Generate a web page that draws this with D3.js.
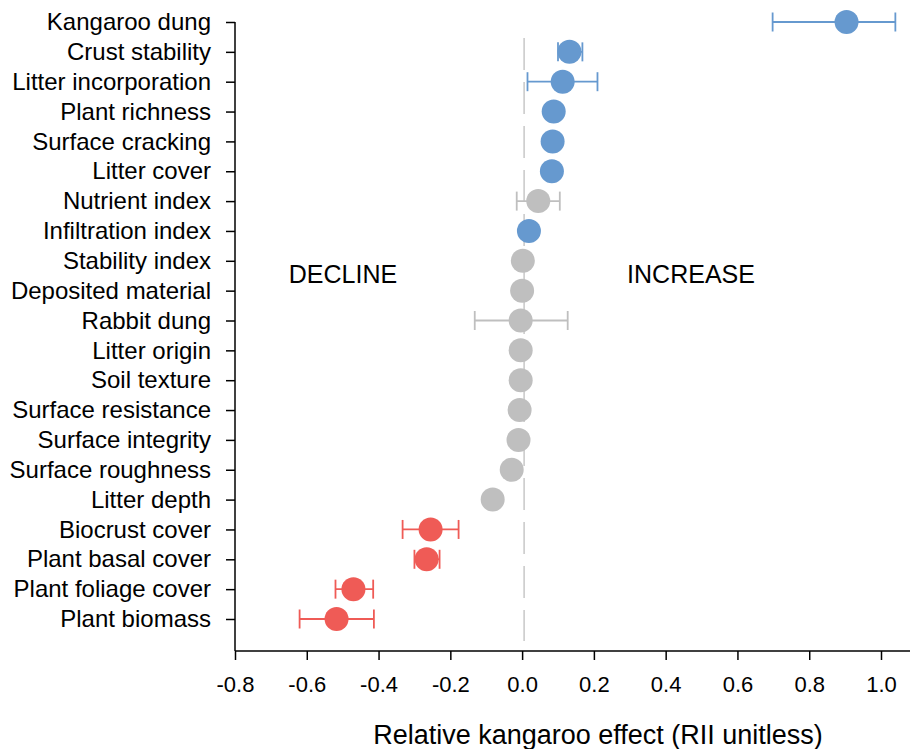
<!DOCTYPE html>
<html>
<head>
<meta charset="utf-8">
<script src="https://cdn.jsdelivr.net/npm/d3@7"></script>
<style>
  body { margin: 0; background: #fff; }
  text { font-family: "Liberation Sans", Arial, sans-serif; fill: #000; }
</style>
</head>
<body>
<svg id="chart" width="910" height="749"></svg>
<script>
const CATEGORIES = [
  'Kangaroo dung', 'Crust stability', 'Litter incorporation', 'Plant richness',
  'Surface cracking', 'Litter cover', 'Nutrient index', 'Infiltration index',
  'Stability index', 'Deposited material', 'Rabbit dung ', 'Litter origin',
  'Soil texture', 'Surface resistance', 'Surface integrity', 'Surface roughness',
  'Litter depth', 'Biocrust cover', 'Plant basal cover', 'Plant foliage cover',
  'Plant biomass'
]
const RII = [
  0.904, 0.132, 0.113, 0.088, 0.085, 0.083, 0.045, 0.019,
  0.002, 0.0, -0.004, -0.004, -0.004, -0.007, -0.01, -0.029,
  -0.082, -0.255, -0.266, -0.47, -0.517
]
const LOWER = [
  0.698, 0.10, 0.015, null, null, null, -0.015, null,
  null, null, -0.132, null, null, null, null, null,
  null, -0.333, -0.30, -0.52, -0.62
]
const UPPER = [
  1.04, 0.168, 0.21, null, null, null, 0.105, null,
  null, null, 0.127, null, null, null, null, null,
  null, -0.177, -0.23, -0.415, -0.413
]
// i = increase, n = not significant, d = decline
const GROUP = [
  'i', 'i', 'i', 'i', 'i', 'i', 'n', 'i',
  'n', 'n', 'n', 'n', 'n', 'n', 'n', 'n',
  'n', 'd', 'd', 'd', 'd'
]
const X_TICKS = [-0.8, -0.6, -0.4, -0.2, 0.0, 0.2, 0.4, 0.6, 0.8, 1.0]

const colors = { i: '#6699cf', n: '#bfbfbf', d: '#ef5b56' }

const svg = d3.select('#chart')
const axisY = 651

const x = d3.scaleLinear()
  .domain([-0.8, 1.0])
  .range([235, 881])

const y = d3.scalePoint()
  .domain(CATEGORIES)
  .range([22, 619])

const rows = CATEGORIES.map((c, i) => ({
  name: c, v: RII[i], lo: LOWER[i], hi: UPPER[i], g: GROUP[i]
}))

// dashed zero line
svg.append('line')
  .attr('x1', x(0) + 2).attr('x2', x(0) + 2)
  .attr('y1', 38).attr('y2', 641)
  .attr('stroke', '#c8c8c8')
  .attr('stroke-width', 1.5)
  .attr('stroke-dasharray', '32,12')

// x axis
const xAxis = svg.append('g')
  .attr('transform', `translate(0,${axisY})`)
  .call(d3.axisBottom(x).tickValues(X_TICKS).tickFormat(d => d.toFixed(1)).tickSize(9).tickSizeOuter(0))
xAxis.select('.domain').remove()
xAxis.append('line')
  .attr('x1', x.range()[0]).attr('x2', 910)
  .attr('stroke', '#000').attr('stroke-width', 1.5)
xAxis.selectAll('.tick line').attr('stroke-width', 1.5)
xAxis.selectAll('.tick text')
  .attr('y', 25)
  .attr('dy', '0.71em')
  .style('font-size', '22px')
  .style('font-family', '"Liberation Sans", Arial, sans-serif')

// y axis
const yAxis = svg.append('g')
  .attr('transform', `translate(${x.range()[0]},0)`)
  .call(d3.axisLeft(y).tickSize(9).tickSizeOuter(0))
yAxis.select('.domain').remove()
yAxis.append('line')
  .attr('y1', y(CATEGORIES[0])).attr('y2', axisY)
  .attr('stroke', '#000').attr('stroke-width', 1.5)
yAxis.selectAll('.tick line').attr('stroke-width', 1.5)
yAxis.selectAll('.tick text')
  .attr('x', -24)
  .style('font-size', '24px')
  .style('font-family', '"Liberation Sans", Arial, sans-serif')

// error bars
const capH = 9.5
const bars = svg.append('g')
  .selectAll('g')
  .data(rows.filter(d => d.lo !== null))
  .enter()
  .append('g')
  .attr('stroke', d => colors[d.g])
  .attr('stroke-width', 1.8)
bars.append('line')
  .attr('x1', d => x(d.lo)).attr('x2', d => x(d.hi))
  .attr('y1', d => y(d.name)).attr('y2', d => y(d.name))
bars.append('line')
  .attr('x1', d => x(d.lo)).attr('x2', d => x(d.lo))
  .attr('y1', d => y(d.name) - capH).attr('y2', d => y(d.name) + capH)
bars.append('line')
  .attr('x1', d => x(d.hi)).attr('x2', d => x(d.hi))
  .attr('y1', d => y(d.name) - capH).attr('y2', d => y(d.name) + capH)

// points
svg.append('g')
  .selectAll('circle')
  .data(rows)
  .enter()
  .append('circle')
  .attr('cx', d => x(d.v))
  .attr('cy', d => y(d.name))
  .attr('r', 12)
  .attr('fill', d => colors[d.g])

// annotations
svg.append('text')
  .attr('x', 343).attr('y', 283)
  .attr('text-anchor', 'middle')
  .style('font-size', '25px')
  .text('DECLINE')
svg.append('text')
  .attr('x', 691).attr('y', 283)
  .attr('text-anchor', 'middle')
  .style('font-size', '25px')
  .text('INCREASE')

// x title
svg.append('text')
  .attr('x', 598).attr('y', 744)
  .attr('text-anchor', 'middle')
  .style('font-size', '27px')
  .text('Relative kangaroo effect (RII unitless)')
</script>
</body>
</html>
